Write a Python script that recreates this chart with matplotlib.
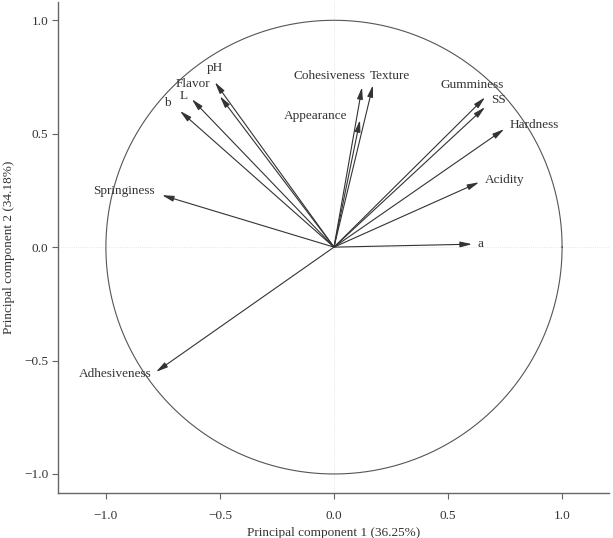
import numpy as np
import matplotlib.pyplot as plt

# Cargas de las variables sobre los dos primeros componentes
variables = ["a", "Acidity", "Hardness", "SS", "Gumminess", "Texture",
             "Cohesiveness", "Appearance", "pH", "Flavor", "L", "b",
             "Springiness", "Adhesiveness"]
pc1 = [0.605, 0.636, 0.746, 0.662, 0.662, 0.171, 0.123, 0.114,
       -0.522, -0.50, -0.623, -0.675, -0.754, -0.78]
pc2 = [0.013, 0.286, 0.52, 0.617, 0.66, 0.714, 0.705, 0.56,
       0.727, 0.665, 0.652, 0.60, 0.229, -0.55]

# Posición y alineación de cada etiqueta
label_x = [0.627, 0.66, 0.772, 0.689, 0.605, 0.246, -0.02, -0.08,
           -0.52, -0.62, -0.66, -0.73, -0.785, -0.80]
label_y = [0.013, 0.295, 0.537, 0.648, 0.714, 0.753, 0.753, 0.58,
           0.79, 0.72, 0.665, 0.635, 0.247, -0.56]
label_ha = ["left", "left", "left", "left", "center", "center", "center",
            "center", "center", "center", "center", "center", "right", "right"]

plt.rcParams['font.family'] = ['Liberation Serif', 'DejaVu Serif']

fig = plt.figure(figsize=(6.13, 5.38), dpi=100)
ax = fig.add_axes([0.0946, 0.0836, 0.899, 0.912])

ax.axhline(0, color="#dddddd", lw=0.6, ls=":", zorder=0)
ax.axvline(0, color="#dddddd", lw=0.6, ls=":", zorder=0)

t = np.linspace(0, 2 * np.pi, 400)
ax.plot(np.cos(t), np.sin(t), color="#555555", lw=0.8)

for i in range(len(variables)):
    ax.annotate("", xy=(pc1[i], pc2[i]), xytext=(0, 0),
                arrowprops=dict(arrowstyle="-|>,head_length=0.7,head_width=0.17",
                                color="#333333", lw=0.8,
                                shrinkA=0, shrinkB=0))
    ax.text(label_x[i], label_y[i], variables[i], ha=label_ha[i],
            va="center", fontsize=9.5, color="#333333")

ax.set_xlim(-1.21, 1.206)
ax.set_ylim(-1.084, 1.079)
ax.set_xticks([-1.0, -0.5, 0.0, 0.5, 1.0])
ax.set_yticks([-1.0, -0.5, 0.0, 0.5, 1.0])
ax.set_xticklabels(["\u22121.0", "\u22120.5", "0.0", "0.5", "1.0"])
ax.set_yticklabels(["\u22121.0", "\u22120.5", "0.0", "0.5", "1.0"])
ax.tick_params(direction="out", length=4, color="#666666",
               labelcolor="#333333", labelsize=9.5)
ax.tick_params(axis="x", pad=8)
ax.tick_params(axis="y", pad=3)

for s in ["top", "right"]:
    ax.spines[s].set_visible(False)
for s in ["left", "bottom"]:
    ax.spines[s].set_color("#666666")
    ax.spines[s].set_linewidth(1.0)

ax.set_xlabel("Principal component 1 (36.25%)", fontsize=9.5, color="#333333")
ax.set_ylabel("Principal component 2 (34.18%)", fontsize=9.5, color="#333333")
ax.yaxis.set_label_coords(-0.078, 0.5)

fig.savefig("out.png", dpi=100)
